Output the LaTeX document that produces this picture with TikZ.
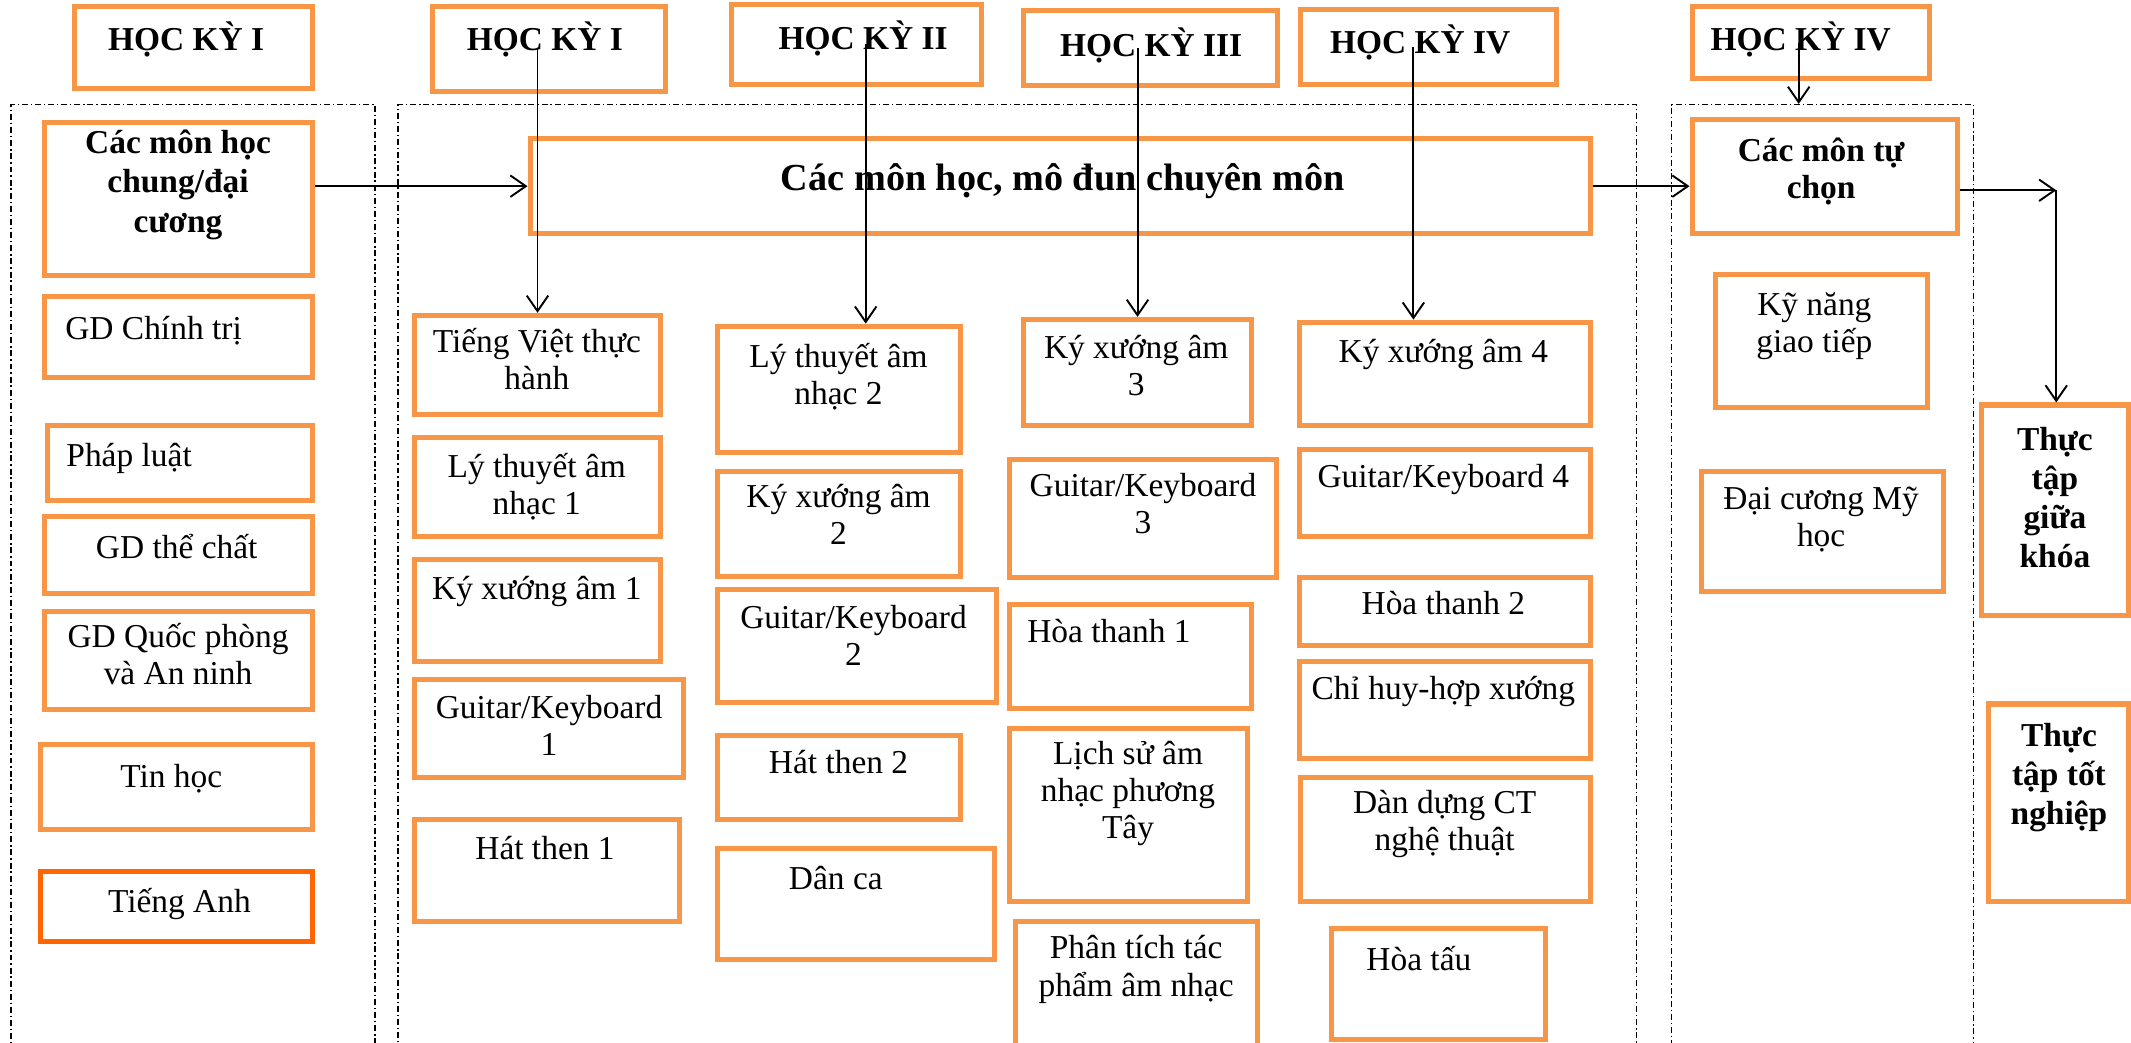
\documentclass[tikz,border=0pt]{standalone}
\usepackage{fontspec}
\setmainfont{Liberation Serif}
\usetikzlibrary{arrows.meta,calc,fit,positioning}
\definecolor{orng}{HTML}{F79646}
\definecolor{orngdark}{HTML}{FF6600}
\tikzstyle{box}=[draw=orng, line width=2.1pt, inner sep=0pt]
\tikzstyle{zone}=[draw, line width=0.6pt, dash pattern=on 2.5pt off 1.2pt on 0.6pt off 1.2pt, inner sep=0pt]
\tikzstyle{txt}=[anchor=north, inner sep=0pt, align=center, font=\fontsize{14}{15.6}\selectfont]
\tikzstyle{btxt}=[txt, font=\fontsize{14}{15.6}\selectfont\bfseries]
\tikzstyle{arr}=[line width=0.8pt, -{Straight Barb[length=6.5pt,width=9pt]}]

\begin{document}
\begin{tikzpicture}[x=0.02cm, y=-0.02cm]
	\useasboundingbox (0,0) rectangle (1568,767);
	\clip (0,0) rectangle (1568,767);
	% dashed zones
	\node[zone, fit={(8,77) (276,800)}] (z1) {};
	\node[zone, fit={(293,77) (1204,800)}] (z2) {};
	\node[zone, fit={(1230,77) (1452,800)}] (z3) {};
	% semesters
	\node[box, fit={(55,5) (230,65)}] (h1) {};
	\node[btxt] (h1t) at (137,16) {HỌC KỲ I};
	\node[box, fit={(318,5) (490,67)}] (h2) {};
	\node[btxt] (h2t) at (401,16) {HỌC KỲ I};
	\node[box, fit={(538,3) (722,62)}] (h3) {};
	\node[btxt] (h3t) at (635,15) {HỌC KỲ II};
	\node[box, fit={(753,8) (940,63)}] (h4) {};
	\node[btxt] (h4t) at (847,20) {HỌC KỲ III};
	\node[box, fit={(957,7) (1145,62)}] (h5) {};
	\node[btxt] (h5t) at (1045,18) {HỌC KỲ IV};
	\node[box, fit={(1245,5) (1420,58)}] (h6) {};
	\node[btxt] (h6t) at (1325,16) {HỌC KỲ IV};
	% general subjects
	\node[box, fit={(33,90) (230,203)}] (a1) {};
	\node[btxt, font=\fontsize{14}{16.6}\selectfont\bfseries] (a1t) at (131,95) {Các môn học\\chung/đại\\cương};
	\node[box, fit={(33,218) (230,278)}] (a2) {};
	\node[txt] (a2t) at (113,232) {GD Chính trị};
	\node[box, fit={(35,313) (230,368)}] (a3) {};
	\node[txt] (a3t) at (95,326) {Pháp luật};
	\node[box, fit={(33,380) (230,437)}] (a4) {};
	\node[txt] (a4t) at (130,393) {GD thể chất};
	\node[box, fit={(33,450) (230,522)}] (a5) {};
	\node[txt] (a5t) at (131,458) {GD Quốc phòng\\và An ninh};
	\node[box, fit={(30,548) (230,610)}] (a6) {};
	\node[txt] (a6t) at (126,562) {Tin học};
	\node[box, draw=orngdark, fit={(30,641) (230,693)}] (a7) {};
	\node[txt] (a7t) at (132,653) {Tiếng Anh};
	% major subjects
	\node[box, fit={(390,102) (1170,172)}] (m) {};
	\node[btxt, font=\fontsize{16}{18}\selectfont\bfseries] (mt) at (782,120) {Các môn học, mô đun chuyên môn};
	% semester I
	\node[box, fit={(305,232) (486,305)}] (b1) {};
	\node[txt] (b1t) at (395,241) {Tiếng Việt thực\\hành};
	\node[box, fit={(305,322) (486,395)}] (b2) {};
	\node[txt] (b2t) at (395,333) {Lý thuyết âm\\nhạc 1};
	\node[box, fit={(305,412) (486,487)}] (b3) {};
	\node[txt] (b3t) at (395,424) {Ký xướng âm 1};
	\node[box, fit={(305,500) (503,572)}] (b4) {};
	\node[txt] (b4t) at (404,511) {Guitar/Keyboard\\1};
	\node[box, fit={(305,603) (500,678)}] (b5) {};
	\node[txt] (b5t) at (401,615) {Hát then 1};
	% semester II
	\node[box, fit={(528,240) (707,333)}] (c1) {};
	\node[txt] (c1t) at (617,252) {Lý thuyết âm\\nhạc 2};
	\node[box, fit={(528,347) (707,424)}] (c2) {};
	\node[txt] (c2t) at (617,356) {Ký xướng âm\\2};
	\node[box, fit={(528,434) (733,517)}] (c3) {};
	\node[txt] (c3t) at (628,445) {Guitar/Keyboard\\2};
	\node[box, fit={(528,541) (707,603)}] (c4) {};
	\node[txt] (c4t) at (617,552) {Hát then 2};
	\node[box, fit={(528,624) (732,706)}] (c5) {};
	\node[txt] (c5t) at (615,637) {Dân ca};
	% semester III
	\node[box, fit={(753,235) (921,313)}] (d1) {};
	\node[txt] (d1t) at (836,246) {Ký xướng âm\\3};
	\node[box, fit={(743,338) (939,425)}] (d2) {};
	\node[txt] (d2t) at (841,348) {Guitar/Keyboard\\3};
	\node[box, fit={(743,445) (921,521)}] (d3) {};
	\node[txt] (d3t) at (816,455) {Hòa thanh 1};
	\node[box, fit={(743,536) (918,663)}] (d4) {};
	\node[txt] (d4t) at (830,545) {Lịch sử âm\\nhạc phương\\Tây};
	\node[box, fit={(747,678) (925,770)}] (d5) {};
	\node[txt] (d5t) at (836,688) {Phân tích tác\\phẩm âm nhạc};
	% semester IV
	\node[box, fit={(956,237) (1170,313)}] (e1) {};
	\node[txt] (e1t) at (1062,249) {Ký xướng âm 4};
	\node[box, fit={(956,331) (1170,395)}] (e2) {};
	\node[txt] (e2t) at (1062,341) {Guitar/Keyboard 4};
	\node[box, fit={(956,425) (1170,475)}] (e3) {};
	\node[txt] (e3t) at (1062,435) {Hòa thanh 2};
	\node[box, fit={(956,487) (1170,558)}] (e4) {};
	\node[txt] (e4t) at (1062,497) {Chỉ huy-hợp xướng};
	\node[box, fit={(957,572) (1170,663)}] (e5) {};
	\node[txt] (e5t) at (1063,581) {Dàn dựng CT\\nghệ thuật};
	\node[box, fit={(980,683) (1137,765)}] (e6) {};
	\node[txt] (e6t) at (1044,696) {Hòa tấu};
	% electives
	\node[box, fit={(1245,88) (1440,172)}] (x1) {};
	\node[btxt] (x1t) at (1340,101) {Các môn tự\\chọn};
	\node[box, fit={(1262,202) (1418,300)}] (x2) {};
	\node[txt] (x2t) at (1335,215) {Kỹ năng\\giao tiếp};
	\node[box, fit={(1252,347) (1430,435)}] (x3) {};
	\node[txt] (x3t) at (1340,358) {Đại cương Mỹ\\học};
	% internships
	\node[box, fit={(1458,298) (1566,453)}] (y1) {};
	\node[btxt, font=\fontsize{14}{16.3}\selectfont\bfseries] (y1t) at (1512,314) {Thực\\tập\\giữa\\khóa};
	\node[box, fit={(1463,518) (1566,663)}] (y2) {};
	\node[btxt, font=\fontsize{14}{16.3}\selectfont\bfseries] (y2t) at (1515,532) {Thực\\tập tốt\\nghiệp};
	% arrows
	\draw[arr] (a1.east |- m.west) -- (m.west);
	\draw[arr] (h2.center -| b1.north) -- (b1.north);
	\draw[arr] ([xshift=0.14cm]h3.center) -- ([xshift=0.14cm]h3.center |- c1.north);
	\draw[arr] (d1.north |- h4.center) -- (d1.north);
	\draw[arr] ([xshift=-0.22cm]h5.center) -- ([xshift=-0.22cm]h5.center |- e1.north);
	\draw[arr] ([xshift=-0.18cm]h6.center) -- ([xshift=-0.18cm]h6.center |- z3.north);
	\draw[arr] (m.east) -- (m.east -| x1.west);
	\coordinate (turn) at (1513,140);
	\draw[arr] (x1.east |- turn) -- (turn);
	\draw[arr] (turn) -- (turn |- y1.north);
\end{tikzpicture}
\end{document}
